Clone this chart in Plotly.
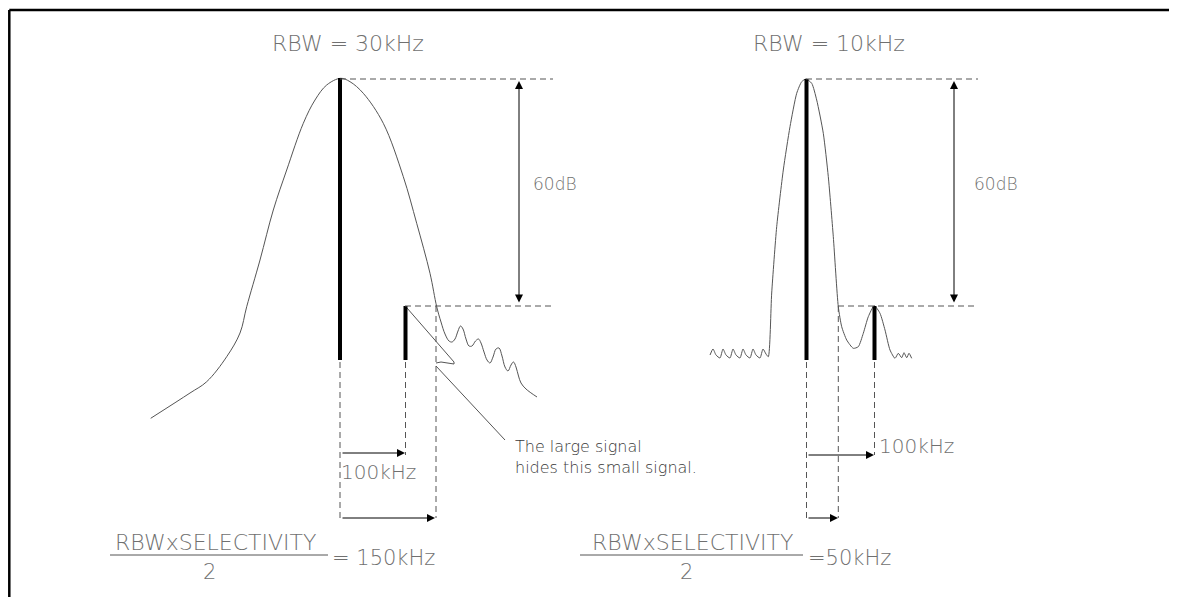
import plotly.graph_objects as go

# coordenadas en pixeles de la figura (x a la derecha, y hacia abajo)
# curva de respuesta con RBW = 30kHz
rbw30_x = [150.7, 190, 206.7, 226.7, 240, 246.7, 260, 273.3, 286.7, 303.3, 315, 326.7, 340.7,
           350, 363.3, 383.3, 403.3, 416.7, 430, 436.7, 441, 445, 449, 452, 455, 458, 460.5, 463,
           466, 469, 472, 475.5, 478.5, 481, 484, 487, 490, 493, 496, 499, 502, 505, 508, 511,
           513.5, 516, 518.5, 521, 526, 537]
rbw30_y = [418.3, 393, 381.7, 356.7, 333, 306.7, 260, 210, 170, 123.3, 100, 85, 78.3,
           81.7, 93.3, 123.3, 176.7, 223.3, 273.3, 306.7, 322, 334, 341, 342, 339, 331, 326, 329,
           339, 346, 346, 341, 339, 343, 352, 360, 363, 357, 349, 348, 356, 367, 371, 365,
           362, 367, 376, 383, 389, 397]

# curva de respuesta con RBW = 10kHz
rbw10_x = [710, 713, 716, 720, 723, 726, 730, 733, 736, 740, 743, 746, 750, 753, 756, 760, 763,
           766, 768.3, 771.7, 776.7, 783.3, 790, 796.7, 801.7, 806, 811.7, 816.7, 823.3, 828.3,
           833.3, 838.3, 841.7, 846.7, 853.3, 858.3, 863.3, 868.3, 874.3, 880, 885, 890, 895,
           898.3, 901.7, 904, 906.7, 909, 911.7]
rbw10_y = [355, 349, 355, 358, 349, 355, 358, 349, 355, 358, 349, 355, 358, 349, 355, 358, 349,
           354, 356.7, 293, 226.7, 170, 126.7, 93.3, 81.7, 79, 83.3, 100, 133.3, 176.7,
           236.7, 306.7, 326.7, 340, 348.3, 346.7, 333.3, 316.7, 305.7, 313.3, 330, 350, 358.3,
           353.3, 357.7, 352.7, 357.7, 353.3, 358.3]

# senales (x, y superior, y inferior)
signals_x = [340, 405.5, 806.5, 874.5]
signals_top = [78, 306, 79, 306]
signals_bottom = [360, 360, 360, 360]

# linea de referencia que apunta a la senal oculta
leader_x = [407, 454, 454, 441, 436, None, 436, 505]
leader_y = [308, 362, 364, 362, 363, None, 366, 440]

titles = ["RBW\u00a0=\u00a030kHz", "RBW\u00a0=\u00a010kHz"]
titles_x = [348, 829]
db_label = "60dB"
span_labels = ["100kHz", "100kHz"]
results = ["=\u00a0150kHz", "=50kHz"]
note_text = "The large signal<br>hides this small signal."

GRAY = "#555555"
TEXT = "#707070"
FONT = "DejaVu Sans"

fig = go.Figure()

fig.add_trace(go.Scatter(x=rbw30_x, y=rbw30_y, mode="lines", line=dict(color=GRAY, width=1, shape="spline", smoothing=1), hoverinfo="skip"))
fig.add_trace(go.Scatter(x=rbw10_x, y=rbw10_y, mode="lines", line=dict(color=GRAY, width=1, shape="spline", smoothing=0.6), hoverinfo="skip"))
fig.add_trace(go.Scatter(x=leader_x, y=leader_y, mode="lines", line=dict(color=GRAY, width=1), hoverinfo="skip"))

shapes = []
# marco
shapes.append(dict(type="line", x0=9.3, x1=1177, y0=10, y1=10, line=dict(color="black", width=2.5)))
shapes.append(dict(type="line", x0=9.3, x1=9.3, y0=10, y1=597, line=dict(color="black", width=2.5)))

# senales gruesas
for sx, st, sb in zip(signals_x, signals_top, signals_bottom):
    shapes.append(dict(type="line", x0=sx, x1=sx, y0=st, y1=sb, line=dict(color="black", width=4)))

dash = dict(color=GRAY, width=1, dash="6px,4px")
# lineas punteadas horizontales
for x0, x1, y in [(340, 553, 79), (405, 553, 306), (806, 978, 79), (838, 978, 306)]:
    shapes.append(dict(type="line", x0=x0, x1=x1, y0=y, y1=y, line=dash))
# lineas punteadas verticales
for x, y0, y1 in [(340, 362, 518), (405.5, 362, 455), (436, 306, 518),
                  (806.5, 362, 518), (838.3, 306, 518), (874.5, 362, 455)]:
    shapes.append(dict(type="line", x0=x, x1=x, y0=y0, y1=y1, line=dash))

fig.update_layout(shapes=shapes)

# flechas
arrows = [
    (519, 81, 519, 304, True),
    (954, 81, 954, 304, True),
    (405, 453, 341, 453, False),
    (435, 518, 341, 518, False),
    (874, 455, 807, 455, False),
    (838, 518, 807, 518, False),
]
for hx, hy, tx, ty, both in arrows:
    fig.add_annotation(x=hx, y=hy, ax=tx, ay=ty, xref="x", yref="y", axref="x", ayref="y",
                       showarrow=True, arrowhead=2, arrowsize=1.6, arrowwidth=1, arrowcolor="black",
                       arrowside="end+start" if both else "end", startarrowhead=2, startarrowsize=1.6,
                       text="")

def label(x, y, t, size=21, color=TEXT, xanchor="center"):
    fig.add_annotation(x=x, y=y, xref="x", yref="y", text=t, showarrow=False, xanchor=xanchor,
                       yanchor="middle", font=dict(family=FONT, size=size, color=color, weight=300))

for tx, t in zip(titles_x, titles):
    label(tx, 43, t, size=22)
label(531, 184, db_label, size=17, xanchor="left")
label(972, 184, db_label, size=17, xanchor="left")
label(339, 472, span_labels[0], size=20, xanchor="left")
label(877, 446, span_labels[1], size=20, xanchor="left")
fig.add_annotation(x=513, y=457, xref="x", yref="y", text=note_text, showarrow=False, xanchor="left",
                   yanchor="middle", align="left", font=dict(family=FONT, size=16, color="#3a3a3a", weight=300))

# formulas
for lx0, lx1, cx, rx, res in [(110, 328, 215, 330, results[0]), (580, 803, 692, 806, results[1])]:
    fig.add_shape(type="line", x0=lx0, x1=lx1, y0=555, y1=555, line=dict(color=GRAY, width=1))
    label(cx, 542, "RBWxSELECTIVITY", size=22)
    label(cx - 6, 572, "2")
    label(rx, 558, res, size=21, xanchor="left")

# el navegador deja 8px de margen en el body
fig.update_xaxes(range=[8, 1177], visible=False, fixedrange=True)
fig.update_yaxes(range=[597, 8], visible=False, fixedrange=True)
fig.update_layout(width=1169, height=589, margin=dict(l=0, r=0, t=0, b=0),
                  paper_bgcolor="white", plot_bgcolor="white", showlegend=False)

fig.write_html("out.html")
